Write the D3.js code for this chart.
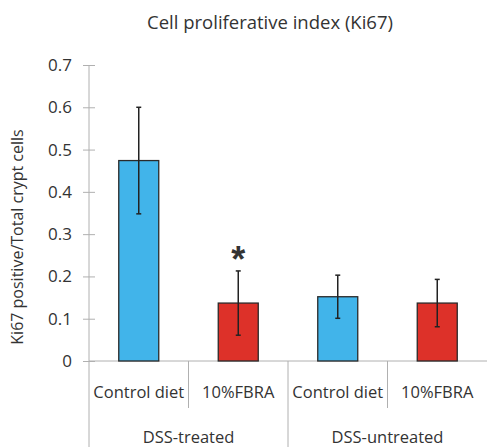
<!DOCTYPE html>
<html><head><meta charset="utf-8">
<script src="https://cdn.jsdelivr.net/npm/d3@7"></script>
<style>body{margin:0;background:#fff}svg{display:block}text{font-family:"Open Sans",Lato,sans-serif;fill:#333}</style>
</head><body>
<script>
const categories = ["Control diet", "10%FBRA", "Control diet", "10%FBRA"];
const groups = ["DSS-treated", "DSS-untreated"];
const means = [0.474, 0.137, 0.152, 0.137];
const errors = [0.126, 0.076, 0.051, 0.056];
const significant = [false, true, false, false];
const yTicks = [0, 0.1, 0.2, 0.3, 0.4, 0.5, 0.6, 0.7];
const colors = ["#41B4EA", "#DD3129", "#41B4EA", "#DD3129"];

const W = 487, H = 447;
const svg = d3.select("body").append("svg").attr("width", W).attr("height", H);
const x0 = 89, x1 = 487, yBase = 361, yTop = 65;
const x = d3.scaleBand().domain(d3.range(categories.length)).range([x0, x1]).paddingInner(0).paddingOuter(0);
const y = d3.scaleLinear().domain([0, 0.7]).range([yBase, yTop]);
const barW = 40;
const grey = "#b0b0b0";

// title
svg.append("text").attr("x", 270).attr("y", 29).attr("text-anchor", "middle")
  .style("font-size", "18.5px").text("Cell proliferative index (Ki67)");

// y axis
const yAxis = d3.axisLeft(y).tickValues(yTicks).tickFormat(d => d === 0 ? "0" : d3.format(".1f")(d)).tickSize(6).tickPadding(10);
const gy = svg.append("g").attr("transform", `translate(${x0},0)`).call(yAxis);
gy.select(".domain").attr("stroke", grey).attr("d", `M0,${yTop}V${yBase}`);
gy.selectAll(".tick line").attr("stroke", grey).attr("x1", 6).attr("x2", -6);
gy.selectAll(".tick text").style("font-size", "17px").attr("fill", "#333").attr("x", -17);

svg.append("text").attr("transform", `translate(23,237) rotate(-90)`).attr("text-anchor", "middle")
  .style("font-size", "16px").text("Ki67 positive/Total crypt cells");

// x axis baseline
svg.append("line").attr("x1", x0).attr("x2", x1).attr("y1", yBase).attr("y2", yBase).attr("stroke", grey);

// dividers
const bounds = d3.range(categories.length).map(i => x(i));
bounds.forEach((bx, i) => {
  const full = i % 2 === 0;
  svg.append("line").attr("x1", bx).attr("x2", bx).attr("y1", yBase).attr("y2", full ? H : 408)
    .attr("stroke", grey);
});

// bars
const bars = svg.append("g");
categories.forEach((c, i) => {
  const cx = x(i) + x.bandwidth() / 2;
  bars.append("rect").attr("x", cx - barW / 2).attr("y", y(means[i])).attr("width", barW)
    .attr("height", yBase - y(means[i])).attr("fill", colors[i]).attr("stroke", "#2a2a2a").attr("stroke-width", 1.3);
  const eTop = y(means[i] + errors[i]), eBot = y(means[i] - errors[i]);
  bars.append("line").attr("x1", cx).attr("x2", cx).attr("y1", eTop).attr("y2", eBot).attr("stroke", "#222").attr("stroke-width", 1.5);
  [eTop, eBot].forEach(ey => bars.append("line").attr("x1", cx - 2.5).attr("x2", cx + 2.5).attr("y1", ey).attr("y2", ey).attr("stroke", "#222").attr("stroke-width", 1.5));
  if (significant[i]) {
    svg.append("text").attr("x", cx).attr("y", eTop + 1).attr("text-anchor", "middle")
      .style("font-size", "36px").style("font-weight", "bold").style("font-family", "Liberation Sans").attr("fill", "#222").text("*");
  }
  svg.append("text").attr("x", cx).attr("y", 398).attr("text-anchor", "middle").style("font-size", "16.5px").text(c);
});

groups.forEach((g, j) => {
  const gx = x(2 * j + 1);
  svg.append("text").attr("x", gx).attr("y", 443).attr("text-anchor", "middle").style("font-size", "16.5px").text(g);
});
</script>
</body></html>
